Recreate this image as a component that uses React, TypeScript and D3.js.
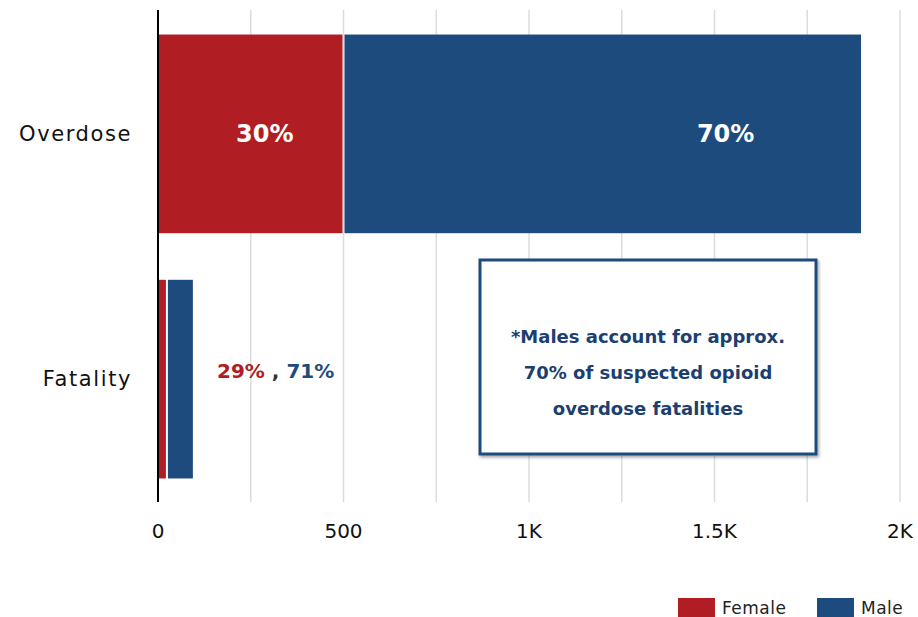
import React from "react";
import * as d3 from "d3";

const categories = ["Overdose", "Fatality"];
const femaleValues = [500, 24];
const maleValues = [1395, 70];
const xTicks = [0, 500, 1000, 1500, 2000];
const xTickLabels = ["0", "500", "1K", "1.5K", "2K"];
const gridValues = [250, 500, 750, 1000, 1250, 1500, 1750, 2000];
const overdoseLabels = [
  { text: "30%", at: 288 },
  { text: "70%", at: 1530 },
];
const noteLines = [
  "*Males account for approx.",
  "70% of suspected opioid",
  "overdose fatalities",
];
const legendItems = ["Female", "Male"];

const RED = "#B01E24";
const BLUE = "#1E4B7E";
const FONT = "'DejaVu Sans', sans-serif";

export default function App() {
  const W = 918;
  const H = 617;
  const x = d3.scaleLinear().domain([0, 2000]).range([158, 900]);
  const y = d3
    .scaleBand<string>()
    .domain(categories)
    .range([10, 503])
    .paddingInner(0.19)
    .paddingOuter(0.1);
  const bw = y.bandwidth();

  const stacked = categories.map((c, i) => ({
    c,
    segs: [
      { x0: 0, x1: femaleValues[i], color: RED },
      { x0: femaleValues[i], x1: femaleValues[i] + maleValues[i], color: BLUE },
    ],
  }));

  const fatY = (y("Fatality") as number) + bw / 2;
  const odY = (y("Overdose") as number) + bw / 2;

  return (
    <svg
      width={W}
      height={H}
      style={{ position: "absolute", left: 0, top: 0, background: "#fff" }}
      fontFamily={FONT}
    >
      <defs>
        <filter id="sh" x="-5%" y="-5%" width="115%" height="115%">
          <feDropShadow dx="1.5" dy="2" stdDeviation="1.5" floodColor="#000" floodOpacity="0.35" />
        </filter>
      </defs>
      {gridValues.map((g) => (
        <line key={g} x1={x(g)} x2={x(g)} y1={10} y2={502} stroke="#DCDCDC" strokeWidth={1.5} />
      ))}
      {stacked.map((s) =>
        s.segs.map((seg, j) => (
          <rect
            key={s.c + j}
            x={x(seg.x0) + (j === 1 ? 1 : 0)}
            y={y(s.c)}
            width={x(seg.x1) - x(seg.x0) - (j === 1 ? 1 : 0) - (j === 0 ? 1 : 0)}
            height={bw}
            fill={seg.color}
          />
        ))
      )}
      <line x1={x(0)} x2={x(0)} y1={10} y2={502} stroke="#000" strokeWidth={2} />
      {categories.map((c) => (
        <text
          key={c}
          x={132}
          y={(y(c) as number) + bw / 2}
          textAnchor="end"
          dominantBaseline="central"
          fontSize={21}
          letterSpacing={1.6}
          fill="#111"
        >
          {c}
        </text>
      ))}
      {xTicks.map((t, i) => (
        <text key={t} x={x(t)} y={531} textAnchor="middle" dominantBaseline="central" fontSize={20} fill="#111">
          {xTickLabels[i]}
        </text>
      ))}
      {overdoseLabels.map((l) => (
        <text
          key={l.text}
          x={x(l.at)}
          y={odY}
          textAnchor="middle"
          dominantBaseline="central"
          fontSize={24}
          fontWeight="bold"
          fill="#fff"
        >
          {l.text}
        </text>
      ))}
      <text x={217} y={fatY - 8} dominantBaseline="central" fontSize={20} fontWeight="bold">
        <tspan fill={RED}>29%</tspan>
        <tspan fill="#333"> , </tspan>
        <tspan fill={BLUE}>71%</tspan>
      </text>
      <rect x={480} y={260} width={336} height={194} fill="#fff" stroke={BLUE} strokeWidth={3} filter="url(#sh)" />
      {noteLines.map((l, i) => (
        <text
          key={i}
          x={648}
          y={336 + i * 36}
          textAnchor="middle"
          dominantBaseline="central"
          fontSize={18}
          fontWeight="bold"
          fill="#1C3F70"
        >
          {l}
        </text>
      ))}
      {legendItems.map((l, i) => (
        <g key={l} transform={`translate(${i === 0 ? 678 : 817},598)`}>
          <rect width={37} height={19} fill={i === 0 ? RED : BLUE} />
          <text x={44} y={10} dominantBaseline="central" fontSize={17} letterSpacing={0.5} fill="#222">
            {l}
          </text>
        </g>
      ))}
    </svg>
  );
}
